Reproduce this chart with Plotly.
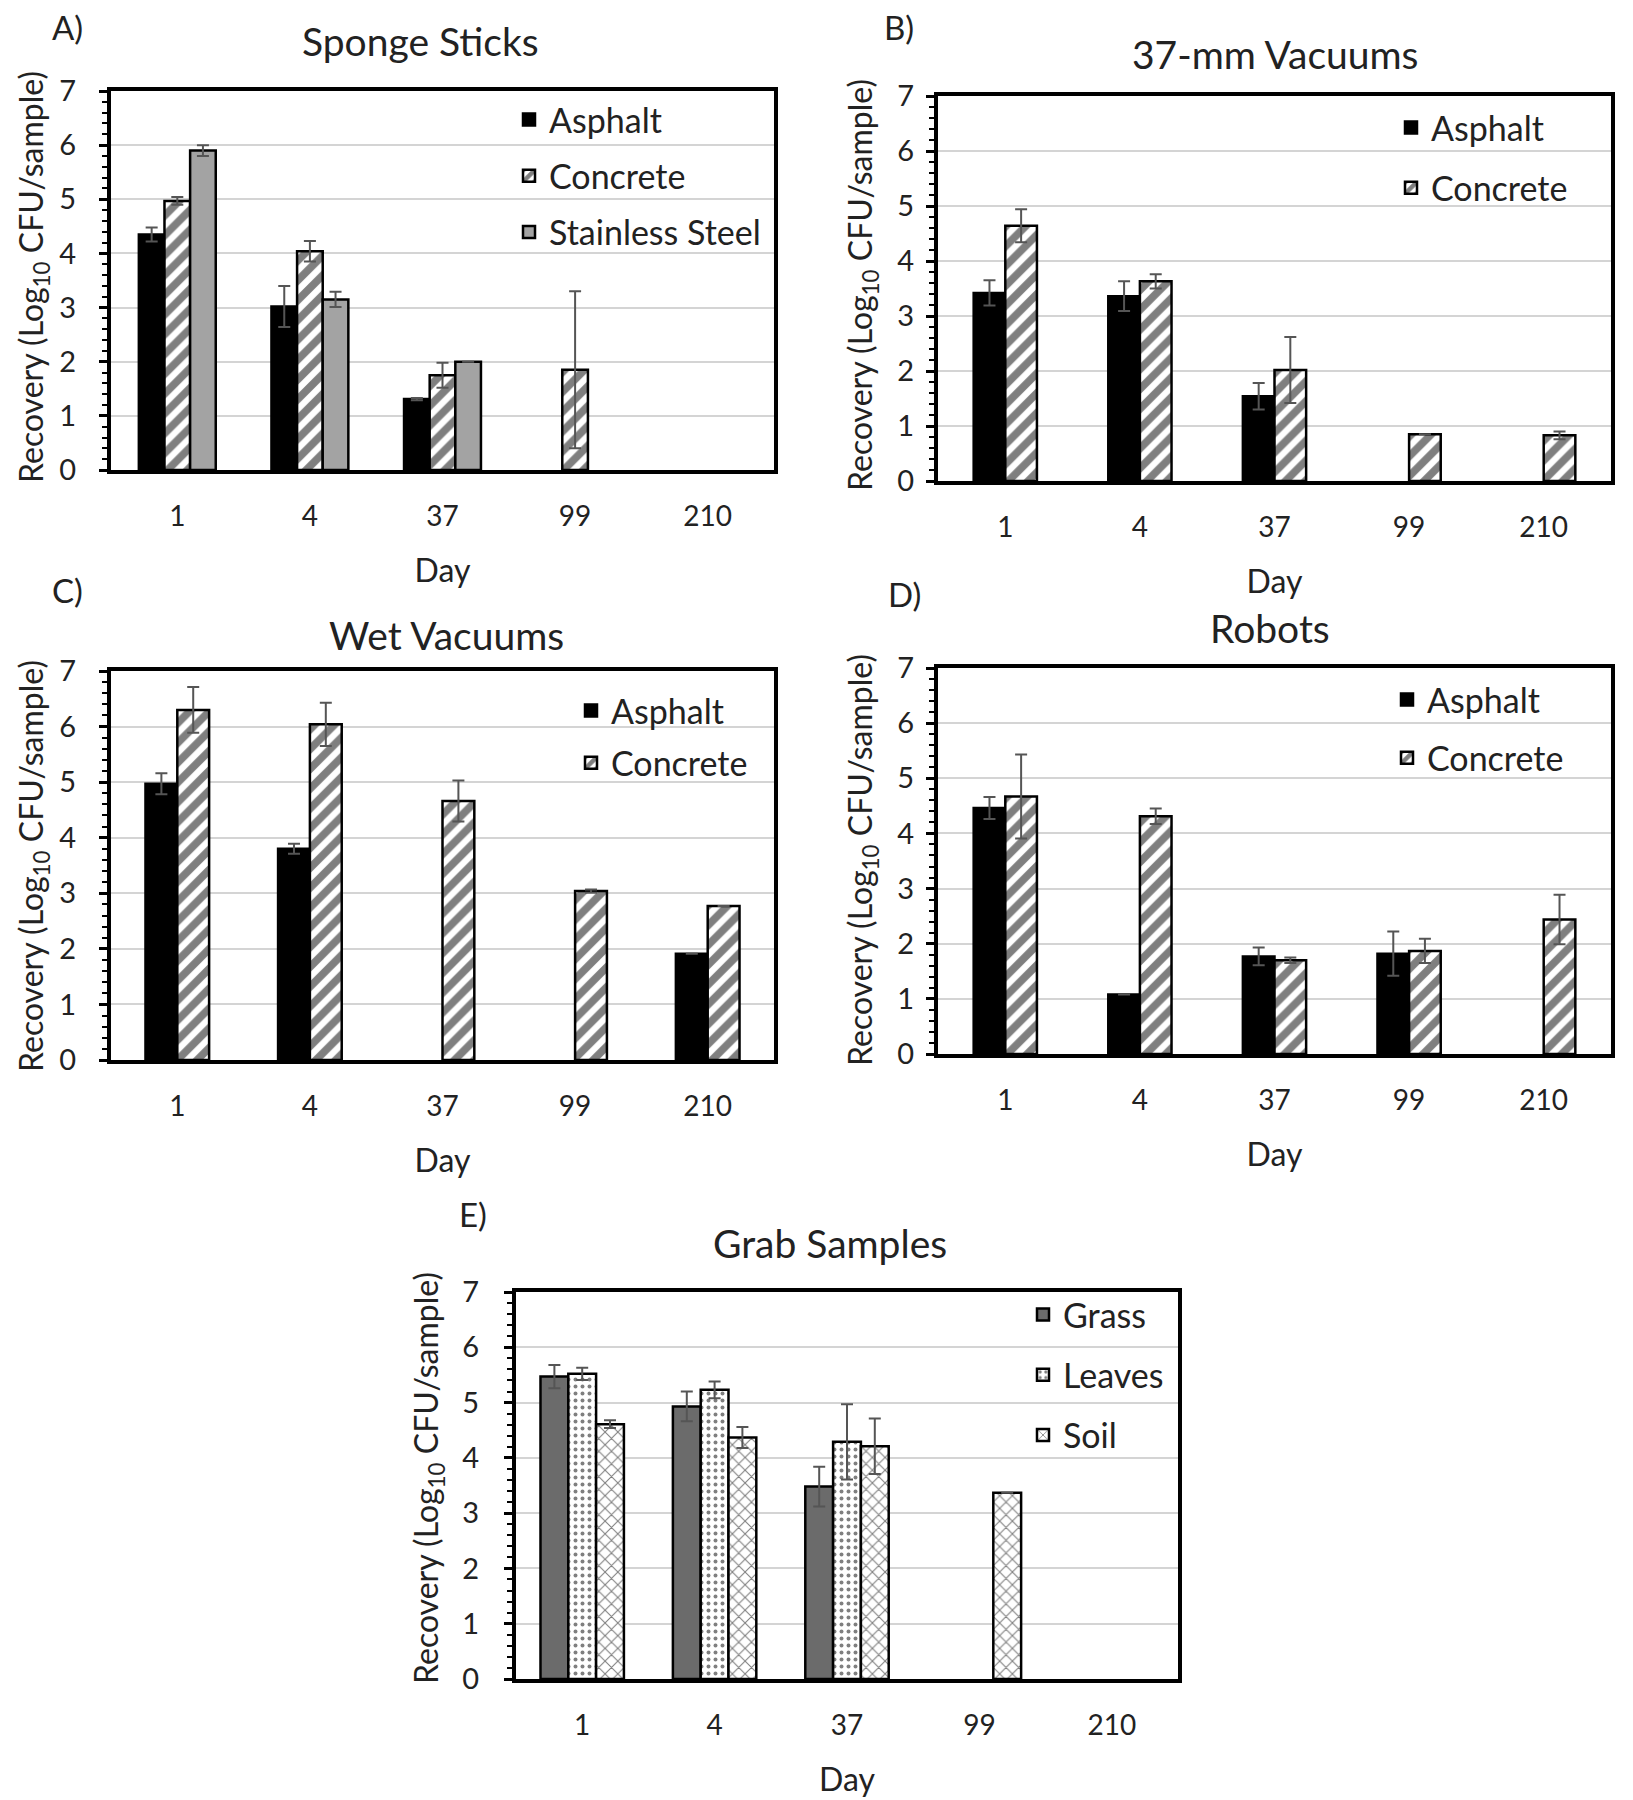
import plotly.graph_objects as go

days = ["1", "4", "37", "99", "210"]

# A) Sponge Sticks
sponge_asphalt = [4.35, 3.02, 1.31, None, None]
sponge_asphalt_err = [0.13, 0.38, 0.02, None, None]
sponge_concrete = [4.97, 4.04, 1.75, 1.85, None]
sponge_concrete_err = [0.07, 0.19, 0.23, 1.45, None]
sponge_steel = [5.90, 3.15, 2.00, None, None]
sponge_steel_err = [0.10, 0.14, None, None, None]

# B) 37-mm Vacuums
vac_asphalt = [3.42, 3.36, 1.54, None, None]
vac_asphalt_err = [0.23, 0.27, 0.24, None, None]
vac_concrete = [4.64, 3.63, 2.02, 0.85, 0.83]
vac_concrete_err = [0.30, 0.13, 0.60, None, 0.07]

# C) Wet Vacuums
wet_asphalt = [4.97, 3.80, None, None, 1.91]
wet_asphalt_err = [0.19, 0.09, None, None, None]
wet_concrete = [6.30, 6.04, 4.66, 3.04, 2.77]
wet_concrete_err = [0.41, 0.39, 0.37, 0.03, None]

# D) Robots
robot_asphalt = [4.46, 1.08, 1.77, 1.82, None]
robot_asphalt_err = [0.20, None, 0.16, 0.40, None]
robot_concrete = [4.67, 4.31, 1.70, 1.87, 2.44]
robot_concrete_err = [0.76, 0.14, 0.05, 0.22, 0.45]

# E) Grab Samples
grab_grass = [5.47, 4.93, 3.48, None, None]
grab_grass_err = [0.21, 0.27, 0.36, None, None]
grab_leaves = [5.52, 5.23, 4.29, None, None]
grab_leaves_err = [0.11, 0.15, 0.68, None, None]
grab_soil = [4.61, 4.37, 4.21, 3.37, None]
grab_soil_err = [0.07, 0.19, 0.50, None, None]

FONT = "Lato"
TXT = "#222"
W, H = 1633, 1800
OFF = 8  # page body margin: the figure lands 8px right/down
YTITLE = "Recovery (Log<sub>10</sub> CFU/sample)"


def px(x):
    return (x - OFF) / W


def py(y):
    return 1 - (y - OFF) / H


STYLES = {
    "Asphalt": dict(color="black"),
    "Concrete": dict(color="white", pattern=dict(shape="/", fgcolor="black", bgcolor="white", size=14, solidity=0.55)),
    "Stainless Steel": dict(color="#a3a3a3"),
    "Grass": dict(color="#6b6b6b"),
    "Leaves": dict(color="white", pattern=dict(shape=".", fgcolor="black", bgcolor="white", size=7, solidity=0.25)),
    "Soil": dict(color="white", pattern=dict(shape="x", fgcolor="black", bgcolor="white", size=9, solidity=0.22)),
}

# box is (left, top, right, bottom) in page px; gw is the width of one day's bar group
panels = [
    dict(title="Sponge Sticks", letter="A)", box=(111, 91, 774, 470), gw=0.58,
         series=[("Asphalt", sponge_asphalt, sponge_asphalt_err),
                 ("Concrete", sponge_concrete, sponge_concrete_err),
                 ("Stainless Steel", sponge_steel, sponge_steel_err)],
         leg=(509, 91), gap=9, tstand=17, ytitle_xy=(33, 277),
         title_xy=(421, 41), letter_xy=(67, 27)),
    dict(title="37-mm Vacuums", letter="B)", box=(938, 96, 1611, 481), gw=0.47,
         series=[("Asphalt", vac_asphalt, vac_asphalt_err),
                 ("Concrete", vac_concrete, vac_concrete_err)],
         leg=(1391, 99), gap=13, tstand=6, ytitle_xy=(862, 285),
         title_xy=(1275, 54), letter_xy=(899, 27)),
    dict(title="Wet Vacuums", letter="C)", box=(111, 671, 774, 1060), gw=0.48,
         series=[("Asphalt", wet_asphalt, wet_asphalt_err),
                 ("Concrete", wet_concrete, wet_concrete_err)],
         leg=(571, 682), gap=5, tstand=17, ytitle_xy=(33, 866),
         title_xy=(446, 635), letter_xy=(67, 590)),
    dict(title="Robots", letter="D)", box=(938, 668, 1611, 1054), gw=0.47,
         series=[("Asphalt", robot_asphalt, robot_asphalt_err),
                 ("Concrete", robot_concrete, robot_concrete_err)],
         leg=(1387, 671), gap=11, tstand=6, ytitle_xy=(862, 860),
         title_xy=(1270, 628), letter_xy=(904, 594)),
    dict(title="Grab Samples", letter="E)", box=(516, 1292, 1178, 1679), gw=0.63,
         series=[("Grass", grab_grass, grab_grass_err),
                 ("Leaves", grab_leaves, grab_leaves_err),
                 ("Soil", grab_soil, grab_soil_err)],
         leg=(1023, 1286), gap=13, tstand=19, ytitle_xy=(428, 1478),
         title_xy=(830, 1243), letter_xy=(473, 1214)),
]

fig = go.Figure()
annotations = []

for i, p in enumerate(panels, start=1):
    sfx = "" if i == 1 else str(i)
    xa, ya = "x" + sfx, "y" + sfx
    legname = "legend" + sfx
    n = len(p["series"])
    bw = p["gw"] / n
    for j, (name, vals, errs) in enumerate(p["series"]):
        st = STYLES[name]
        marker = dict(color=st["color"], line=dict(color="black", width=2.5))
        if "pattern" in st:
            marker["pattern"] = st["pattern"]
        fig.add_trace(go.Bar(
            x=days, y=vals, name=name, xaxis=xa, yaxis=ya,
            width=bw, offset=-p["gw"] / 2 + j * bw,
            marker=marker,
            error_y=dict(type="data", array=errs, visible=True,
                         color="#555555", thickness=2, width=6),
            legend=legname, legendgroup=f"{i}-{name}",
        ))

    l, t, r, b = p["box"]
    fig.update_layout(**{
        "xaxis" + sfx: dict(
            domain=[px(l), px(r)], anchor=ya, type="category", automargin=False,
            showline=True, linecolor="black", linewidth=4, mirror=True,
            showgrid=False, ticks="", ticklabelstandoff=18,
            tickfont=dict(family=FONT, size=28, color=TXT),
            title=dict(text="Day", font=dict(family=FONT, size=32, color=TXT), standoff=30),
        ),
        "yaxis" + sfx: dict(
            domain=[py(b), py(t)], anchor=xa, range=[0, 7], dtick=1, automargin=False,
            showline=True, linecolor="black", linewidth=4, mirror=True,
            showgrid=True, gridcolor="#d4d4d4", gridwidth=2, zeroline=False,
            ticks="outside", ticklen=8, tickwidth=2.5, tickcolor="black",
            minor=dict(dtick=0.2, ticks="outside", ticklen=5, tickwidth=1.5, tickcolor="black", showgrid=False),
            tickfont=dict(family=FONT, size=29, color=TXT), ticklabelstandoff=p["tstand"],
        ),
        legname: dict(
            x=px(p["leg"][0]), y=py(p["leg"][1]), xanchor="left", yanchor="top",
            bgcolor="rgba(0,0,0,0)", font=dict(family=FONT, size=34, color=TXT),
            tracegroupgap=p["gap"], traceorder="grouped", itemwidth=30,
        ),
    })
    # y-axis title as a rotated annotation so it can sit as far left as the reference
    annotations.append(dict(text=YTITLE, x=px(p["ytitle_xy"][0]), y=py(p["ytitle_xy"][1]),
                            xref="paper", yref="paper", showarrow=False, textangle=-90,
                            xanchor="center", yanchor="middle",
                            font=dict(family=FONT, size=32, color=TXT)))
    annotations.append(dict(text=p["title"], x=px(p["title_xy"][0]), y=py(p["title_xy"][1]),
                            xref="paper", yref="paper", showarrow=False,
                            xanchor="center", yanchor="middle",
                            font=dict(family=FONT, size=39, color=TXT)))
    annotations.append(dict(text=p["letter"], x=px(p["letter_xy"][0]), y=py(p["letter_xy"][1]),
                            xref="paper", yref="paper", showarrow=False,
                            xanchor="center", yanchor="middle",
                            font=dict(family=FONT, size=33, color=TXT)))

fig.update_layout(
    width=W, height=H, barmode="overlay",
    paper_bgcolor="white", plot_bgcolor="white",
    margin=dict(l=0, r=0, t=0, b=0, autoexpand=False),
    annotations=annotations,
    font=dict(family=FONT, color=TXT),
)

fig.write_html("out.html")
